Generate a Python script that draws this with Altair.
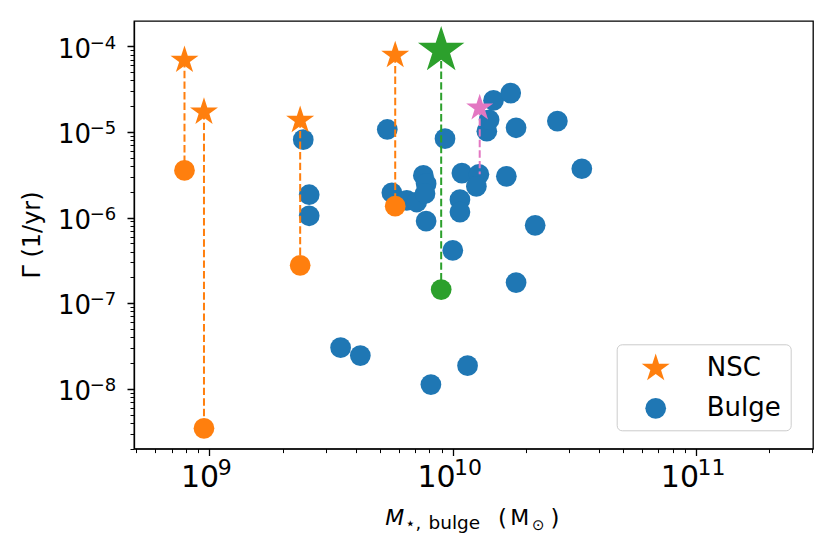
import altair as alt
import pandas as pd
import numpy as np

# ---------------- data ----------------
nsc_mass = [7.9e8, 9.5e8, 2.36e9, 5.8e9]
nsc_rate = [6.9e-5, 1.71e-5, 1.37e-5, 7.85e-5]
nsc_bulge_rate = [3.56e-6, 3.45e-9, 2.77e-7, 1.36e-6]

green_mass = [8.96e9]
green_nsc_rate = [8.98e-5]
green_bulge_rate = [1.44e-7]

pink_mass = [1.29e10]
pink_nsc_rate = [1.91e-5]
pink_bulge_rate = [3.20e-6]

bulge_mass = [2.43e9, 2.57e9, 2.57e9, 3.46e9, 4.17e9, 5.38e9, 5.62e9, 6.47e9,
              7.11e9, 7.57e9, 7.77e9, 7.69e9, 7.77e9, 8.13e9, 9.29e9, 1.00e10,
              1.07e10, 1.07e10, 1.09e10, 1.15e10, 1.28e10, 1.25e10, 1.38e10, 1.41e10,
              1.47e10, 1.73e10, 1.66e10, 1.82e10, 1.82e10, 2.18e10, 2.69e10, 3.39e10]
bulge_rate = [8.13e-6, 1.85e-6, 1.05e-6, 3.02e-8, 2.44e-8, 1.07e-5, 1.95e-6, 1.59e-6,
              1.52e-6, 3.11e-6, 2.49e-6, 1.90e-6, 9.10e-7, 1.12e-8, 8.36e-6, 4.14e-7,
              1.62e-6, 1.16e-6, 3.31e-6, 1.86e-8, 3.20e-6, 2.31e-6, 1.02e-5, 1.39e-5,
              2.34e-5, 2.85e-5, 3.03e-6, 1.12e-5, 1.74e-7, 8.11e-7, 1.34e-5, 3.72e-6]

legend_labels = ["NSC", "Bulge"]
x_major_exps = [9, 10, 11]
y_major_exps = [-8, -7, -6, -5, -4]

# ---------------- styling ----------------
ORANGE, BLUE, GREEN, PINK = "#ff7f0e", "#1f77b4", "#2ca02c", "#e377c2"
FONT = "DejaVu Sans"
DASH = [7.4, 3.2]

ang = np.deg2rad(-90 + 36 * np.arange(10))
rad = np.where(np.arange(10) % 2 == 0, 1.0, 0.382)
STAR = "M" + "L".join(f"{r*np.cos(a):.4f},{r*np.sin(a):.4f}" for a, r in zip(ang, rad)) + "Z"

XS = alt.Scale(type="log", domain=[4.9e8, 3.02e11], nice=False)
YS = alt.Scale(type="log", domain=[2.0e-9, 1.98e-4], nice=False)
PLOT_W, PLOT_H = 679, 427.6

def minor_major(lo, hi, e0, e1):
    vals = []
    for e in range(e0, e1 + 1):
        for k in range(1, 10):
            v = k * 10.0 ** e
            if lo * 0.999 <= v <= hi * 1.001:
                vals.append(v)
    return vals

x_ticks = minor_major(4.9e8, 3.02e11, 8, 11)
y_ticks = minor_major(2.0e-9, 1.98e-4, -9, -4)

LEXP = "log(datum.value)/LN10"
IS_MINOR = f"abs({LEXP} - round({LEXP})) >= 1e-6"
tick_dash = {"condition": {"test": IS_MINOR, "value": [4, 30]}, "value": [1, 0]}
tick_width = {"condition": {"test": IS_MINOR, "value": 1.0}, "value": 1.3}

x_axis = alt.Axis(values=x_ticks, labels=False, tickSize=7,
                  tickDash=tick_dash, tickWidth=tick_width,
                  tickColor="black", domainColor="black", domainWidth=1.3,
                  grid=False, title=None)
y_axis = alt.Axis(values=y_ticks, labels=False, tickSize=7,
                  tickDash=tick_dash, tickWidth=tick_width,
                  tickColor="black", domainColor="black", domainWidth=1.3, grid=False,
                  title="Γ (1/yr)", titleFont=FONT, titleFontSize=24, titleFontWeight="normal",
                  titleColor="black", titleX=-102, titleY=213.5, titleAngle=270,
                  titleAlign="center", titleBaseline="middle")

legend = alt.Legend(title=None, orient="none", legendX=482.7, legendY=323.3, padding=9,
                    symbolOffset=15, labelOffset=36, rowPadding=14,
                    strokeColor="#cccccc", fillColor="white", cornerRadius=5,
                    labelFont=FONT, labelFontSize=26, labelColor="black",
                    symbolStrokeWidth=0, symbolOpacity=1)

def kind_enc():
    return dict(
        color=alt.Color("kind:N", scale=alt.Scale(domain=legend_labels, range=[ORANGE, BLUE]), legend=legend),
        shape=alt.Shape("kind:N", scale=alt.Scale(domain=legend_labels, range=[STAR, "circle"]), legend=legend),
        size=alt.Size("kind:N", scale=alt.Scale(domain=legend_labels, range=[864, 430]), legend=legend),
    )

def X():
    return alt.X("x:Q", scale=XS, axis=x_axis)

def Y():
    return alt.Y("y:Q", scale=YS, axis=y_axis)

bulge_df = pd.DataFrame({"x": bulge_mass, "y": bulge_rate, "kind": "Bulge"})
nsc_df = pd.DataFrame({"x": nsc_mass, "y": nsc_rate, "kind": "NSC"})

blue = alt.Chart(bulge_df).mark_point(filled=True, opacity=1, strokeWidth=0).encode(
    x=X(), y=Y(), **kind_enc())

def rules(mass, top, bottom, color):
    df = pd.DataFrame({"x": mass, "y": top, "y2": bottom})
    return alt.Chart(df).mark_rule(color=color, strokeDash=DASH, strokeWidth=2).encode(
        x=X(), y=Y(), y2="y2:Q")

orange_rules = rules(nsc_mass, nsc_rate, nsc_bulge_rate, ORANGE)
green_rules = rules(green_mass, green_nsc_rate, green_bulge_rate, GREEN)
pink_rules = rules(pink_mass, pink_nsc_rate, pink_bulge_rate, PINK)

orange_stars = alt.Chart(nsc_df).mark_point(filled=True, opacity=1, strokeWidth=0).encode(
    x=X(), y=Y(), **kind_enc())

def single(mass, rate, color, shape, size):
    df = pd.DataFrame({"x": mass, "y": rate})
    return alt.Chart(df).mark_point(filled=True, opacity=1, strokeWidth=0, shape=shape,
                                    size=size, color=color).encode(x=X(), y=Y())

green_star = single(green_mass, green_nsc_rate, GREEN, STAR, 2381)
pink_star = single(pink_mass, pink_nsc_rate, PINK, STAR, 806)
orange_circ = single(nsc_mass, nsc_bulge_rate, ORANGE, "circle", 430)
green_circ = single(green_mass, green_bulge_rate, GREEN, "circle", 430)

# ---------------- tick labels 10^n (base + exponent) ----------------
def x_labels(exps, base_dx, exp_dx):
    df = pd.DataFrame({"x": [10.0 ** e for e in exps], "b": "10", "e": [str(e) for e in exps]})
    base = alt.Chart(df).mark_text(font=FONT, fontSize=30, color="black", align="right",
                                   baseline="alphabetic", dx=base_dx).encode(
        x=X(), y=alt.value(PLOT_H + 38.4), text="b:N")
    sup = alt.Chart(df).mark_text(font=FONT, fontSize=22, color="black", align="left",
                                  baseline="alphabetic", dx=exp_dx).encode(
        x=X(), y=alt.value(PLOT_H + 26.7), text="e:N")
    return [base, sup]

x_lab_layers = (x_labels([e for e in x_major_exps if len(str(e)) == 1], 9.8, 8.3)
                + x_labels([e for e in x_major_exps if len(str(e)) == 2], 2.8, 1.3))

ydf = pd.DataFrame({"y": [10.0 ** e for e in y_major_exps], "b": "10",
                    "e": ["\u2212" + str(abs(e)) for e in y_major_exps]})
y_base = alt.Chart(ydf).mark_text(font=FONT, fontSize=26, color="black", align="right",
                                  baseline="alphabetic", dy=11.3).encode(
    y=Y(), x=alt.value(-43.0), text="b:N")
y_sup = alt.Chart(ydf).mark_text(font=FONT, fontSize=18, color="black", align="left",
                                 baseline="alphabetic", dy=2.3).encode(
    y=Y(), x=alt.value(-44.2), text="e:N")

# ---------------- x axis title pieces ----------------
def txt(s, px, py, size, style="normal", baseline="alphabetic"):
    return alt.Chart(pd.DataFrame({"t": [s]})).mark_text(
        font=FONT, fontSize=size, fontStyle=style, color="black", align="center",
        baseline=baseline).encode(text="t:N", x=alt.value(px), y=alt.value(py))

title_parts = [
    txt("M", 260.7, 503.6, 22, "italic"),
    txt("⋆", 276.2, 507.6, 17),
    txt(",", 284.3, 507.6, 18),
    txt("bulge", 320.3, 507.6, 18.5),
    txt("(", 368.5, 505.0, 23),
    txt("M", 385.7, 503.6, 22),
    txt("⊙", 404.3, 504.3, 15, baseline="middle"),
    txt(")", 421.0, 505.0, 23),
]

chart = alt.layer(
    blue, orange_rules, green_rules, pink_rules, orange_stars, green_star, pink_star,
    orange_circ, green_circ, *x_lab_layers, y_base, y_sup, *title_parts
).properties(
    width=PLOT_W, height=PLOT_H,
    autosize=alt.AutoSizeParams(type="none"),
    padding={"left": 126, "top": 13, "right": 9, "bottom": 90},
    background="white",
).configure_view(stroke="black", strokeWidth=1.3)

chart.save("out.html", embed_options={"renderer": "svg", "actions": False})
